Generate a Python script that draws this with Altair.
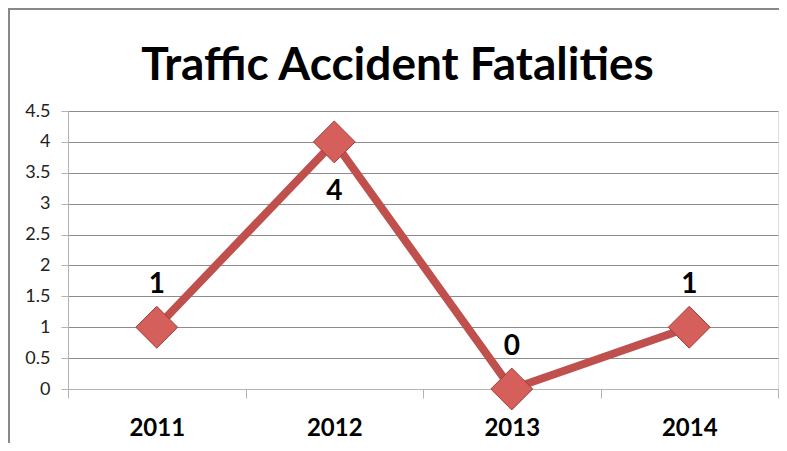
import altair as alt
import pandas as pd

years = ["2011", "2012", "2013", "2014"]
fatalities = [1, 4, 0, 1]
y_ticks = [0, 0.5, 1, 1.5, 2, 2.5, 3, 3.5, 4, 4.5]
title_text = ["Traffic Accident Fatalities"]

df = pd.DataFrame({"year": years, "fatalities": fatalities})

FONT = "Lato"
RED = "#C0504D"

base = alt.Chart(df).encode(
    x=alt.X(
        "year:N",
        sort=years,
        scale=alt.Scale(paddingInner=0, paddingOuter=0),
        axis=alt.Axis(
            title=None,
            labelAngle=0,
            labelFont=FONT,
            labelFontSize=24,
            labelFontWeight="bold",
            labelColor="#000000",
            labelPadding=18,
            tickBand="extent",
            tickSize=9,
            tickColor="#b3b3b3",
            domainColor="#b3b3b3",
            grid=False,
        ),
    ),
    y=alt.Y(
        "fatalities:Q",
        scale=alt.Scale(domain=[0, 4.5], nice=False),
        axis=alt.Axis(
            title=None,
            values=y_ticks,
            format="~g",
            labelFont=FONT,
            labelFontSize=18,
            labelColor="#222222",
            labelPadding=11,
            tickSize=7,
            tickColor="#b3b3b3",
            domainColor="#b3b3b3",
            gridColor="#8c8c8c",
            gridWidth=1,
        ),
    ),
)

line = base.mark_line(color=RED, strokeWidth=8)
points = base.mark_point(
    shape="diamond", size=1750, filled=True, fill="#D55F5B", stroke="#A33B38",
    strokeWidth=1, opacity=1,
)
labels_above = base.transform_filter("datum.fatalities < 4").mark_text(
    font=FONT, fontSize=28, fontWeight="bold", color="#000000", dy=-42
).encode(text="fatalities:Q")
labels_below = base.transform_filter("datum.fatalities >= 4").mark_text(
    font=FONT, fontSize=28, fontWeight="bold", color="#000000", dy=50
).encode(text="fatalities:Q")

frame = alt.Chart(pd.DataFrame({"f": [0]})).mark_rect(
    fill=None, stroke="#888888", strokeWidth=2
).encode(
    x=alt.value(-59), x2=alt.value(800), y=alt.value(-102), y2=alt.value(420)
)

title = alt.Chart(pd.DataFrame({"t": title_text})).mark_text(
    font=FONT, fontSize=46, fontWeight="bold", color="#000000",
    align="center", baseline="alphabetic",
).encode(text="t:N", x=alt.value(329.5), y=alt.value(-31))

chart = alt.layer(frame, title, line, points, labels_above, labels_below).properties(
    width=710,
    height=278,
    padding={"left": 60, "top": 103, "right": 1, "bottom": 54},
    autosize=alt.AutoSizeParams(type="none"),
).configure_view(stroke=None).configure(background="#ffffff")

chart.save("out.html", embed_options={"renderer": "svg", "actions": False})
